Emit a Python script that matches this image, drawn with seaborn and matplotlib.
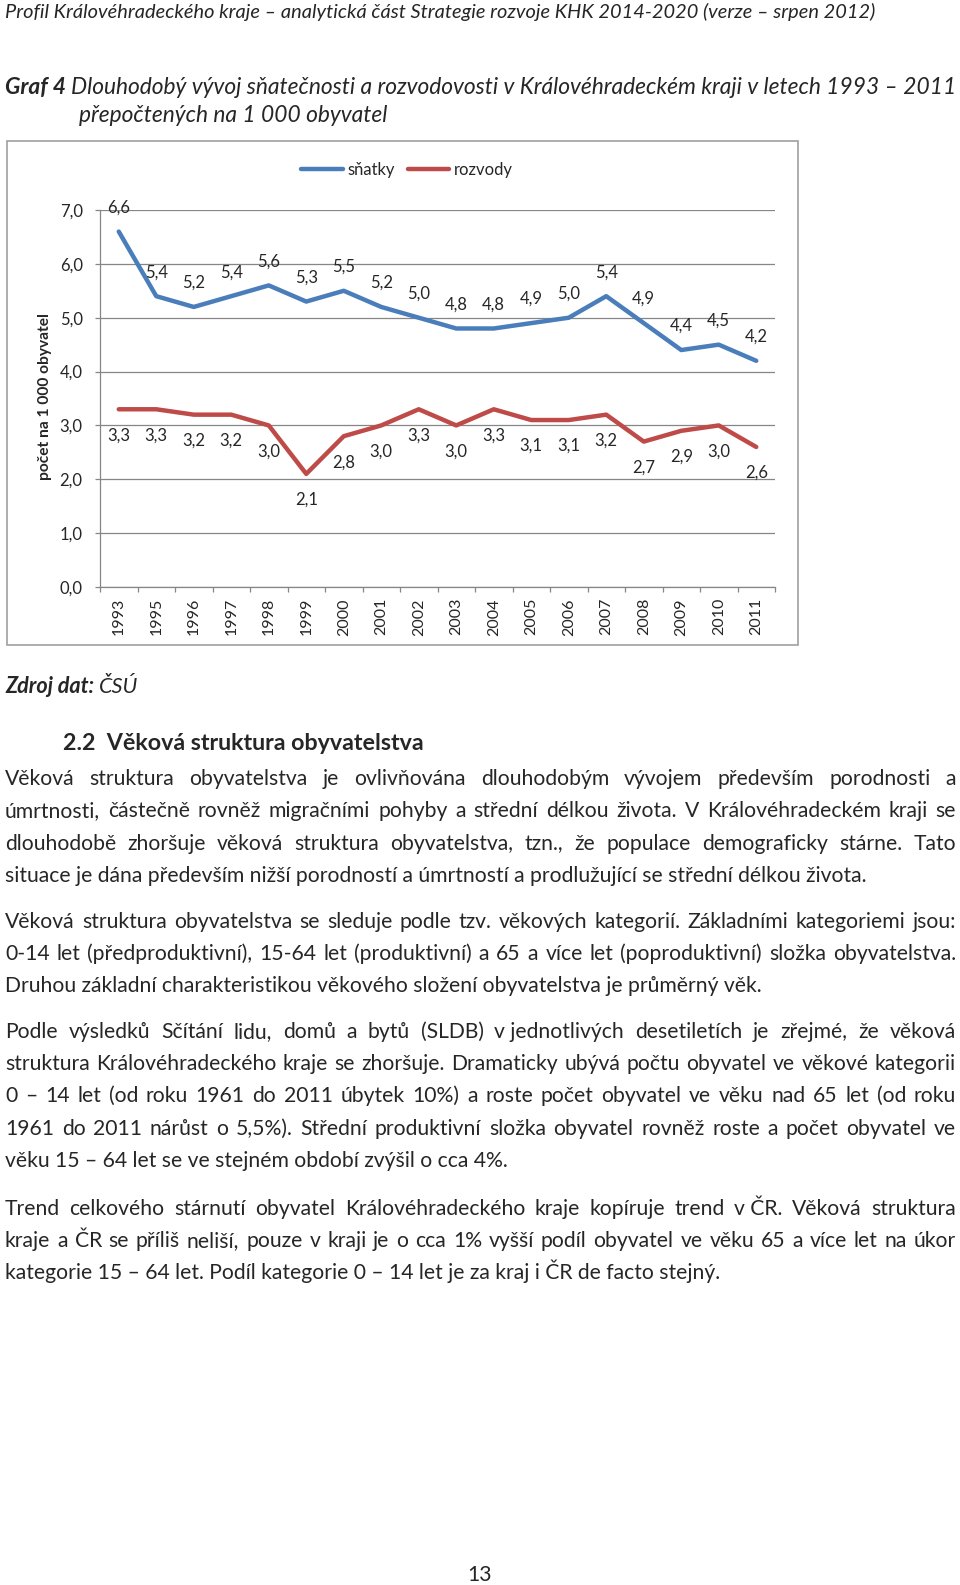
import matplotlib
matplotlib.use('Agg')
import matplotlib.pyplot as plt
import seaborn as sns
import pandas as pd
from matplotlib.lines import Line2D
from matplotlib.patches import Rectangle

# ---------------- data ----------------
roky = ['1993', '1995', '1996', '1997', '1998', '1999', '2000', '2001', '2002',
        '2003', '2004', '2005', '2006', '2007', '2008', '2009', '2010', '2011']
snatky = [6.6, 5.4, 5.2, 5.4, 5.6, 5.3, 5.5, 5.2, 5.0, 4.8, 4.8, 4.9, 5.0, 5.4, 4.9, 4.4, 4.5, 4.2]
rozvody = [3.3, 3.3, 3.2, 3.2, 3.0, 2.1, 2.8, 3.0, 3.3, 3.0, 3.3, 3.1, 3.1, 3.2, 2.7, 2.9, 3.0, 2.6]
serie = ['sňatky', 'rozvody']
barvy = ['#4A7EBB', '#BE4B48']
y_ticks = [0, 1, 2, 3, 4, 5, 6, 7]

hlavicka = 'Profil Královéhradeckého kraje – analytická část Strategie rozvoje KHK 2014-2020 (verze – srpen 2012)'
graf_cislo = 'Graf 4'
graf_nazev1 = 'Dlouhodobý vývoj sňatečnosti a rozvodovosti v Královéhradeckém kraji v letech 1993 – 2011'
graf_nazev2 = 'přepočtených na 1 000 obyvatel'
osa_y = 'počet na 1 000 obyvatel'
zdroj_b = 'Zdroj dat:'
zdroj_i = 'ČSÚ'
nadpis = '2.2  Věková struktura obyvatelstva'
NB = '\u00a0'
odstavce = [
    ['Věková struktura obyvatelstva je ovlivňována dlouhodobým vývojem především porodnosti a',
     'úmrtnosti, částečně rovněž migračními pohyby a střední délkou života. V Královéhradeckém kraji se',
     'dlouhodobě zhoršuje věková struktura obyvatelstva, tzn., že populace demograficky stárne. Tato',
     'situace je dána především nižší porodností a úmrtností a prodlužující se střední délkou života.'],
    ['Věková struktura obyvatelstva se sleduje podle tzv. věkových kategorií. Základními kategoriemi jsou:',
     '0-14 let (předproduktivní), 15-64 let (produktivní) a 65 a více let (poproduktivní) složka obyvatelstva.',
     'Druhou základní charakteristikou věkového složení obyvatelstva je průměrný věk.'],
    ['Podle výsledků Sčítání lidu, domů a bytů (SLDB) v' + NB + 'jednotlivých desetiletích je zřejmé, že věková',
     'struktura Královéhradeckého kraje se zhoršuje. Dramaticky ubývá počtu obyvatel ve věkové kategorii',
     '0 – 14 let (od roku 1961 do 2011 úbytek 10%) a roste počet obyvatel ve věku nad 65 let (od roku',
     '1961 do 2011 nárůst o 5,5%). Střední produktivní složka obyvatel rovněž roste a počet obyvatel ve',
     'věku 15 – 64 let se ve stejném období zvýšil o cca 4%.'],
    ['Trend celkového stárnutí obyvatel Královéhradeckého kraje kopíruje trend v' + NB + 'ČR. Věková struktura',
     'kraje a ČR se příliš neliší, pouze v kraji je o cca 1% vyšší podíl obyvatel ve věku 65 a více let na úkor',
     'kategorie 15 – 64 let. Podíl kategorie 0 – 14 let je za kraj i ČR de facto stejný.'],
]
radky_y = [[779, 811, 844, 876], [922, 954, 986], [1032, 1064, 1096, 1129, 1161], [1207, 1239, 1271]]
strana = '13'

# ---------------- setup ----------------
sns.set_style('white')
plt.rcParams['font.family'] = ['Lato', 'DejaVu Sans']
W, H = 960, 1585
fig = plt.figure(figsize=(W / 100, H / 100), dpi=100)
fig.patch.set_facecolor('white')
r = fig.canvas.get_renderer()


def fx(x):
    return x / W


def fy(y):
    return 1 - y / H


def tw(s, **kw):
    t = fig.text(0, 0, s, **kw)
    w = t.get_window_extent(r).width
    t.remove()
    return w


def base_off(s, **kw):
    """pixels from bbox centre to baseline (negative => baseline below centre)"""
    t = fig.text(0, 0.5, s, va='baseline', **kw)
    bb = t.get_window_extent(r)
    t.remove()
    return 0.5 * H - (bb.y0 + bb.y1) / 2


def fit(s, target, **kw):
    return 20 * target / tw(s, fontsize=20, **kw)


# ---------------- chart ----------------
GRID = '#868686'
FS = 12
ax = fig.add_axes([fx(100), fy(587), 675 / W, 377 / H])
df = pd.DataFrame({'rok': roky * 2,
                   'hodnota': snatky + rozvody,
                   'řada': [serie[0]] * len(roky) + [serie[1]] * len(roky)})
sns.lineplot(data=df, x='rok', y='hodnota', hue='řada', hue_order=serie,
             palette=dict(zip(serie, barvy)), linewidth=3.2, ax=ax, legend=False,
             sort=False, estimator=None)
for ln in ax.lines:
    ln.set_solid_joinstyle('round')
    ln.set_solid_capstyle('round')

ax.set_ylim(0, 7)
ax.set_xlim(-0.5, len(roky) - 0.5)
ax.set_yticks(y_ticks)
ax.set_yticklabels([f'{v:.1f}'.replace('.', ',') for v in y_ticks])
ax.set_xticks(range(len(roky)))
ax.set_xticklabels(roky, rotation=90)
ax.set_xticks([i - 0.5 for i in range(len(roky) + 1)], minor=True)
ax.yaxis.grid(True, color=GRID, lw=0.9)
ax.xaxis.grid(False)
ax.set_axisbelow(True)
for s in ['top', 'right']:
    ax.spines[s].set_visible(False)
for s in ['left', 'bottom']:
    ax.spines[s].set_color(GRID)
    ax.spines[s].set_linewidth(0.9)
ax.tick_params(axis='y', length=3.5, width=0.9, color=GRID, pad=9, labelsize=FS, left=True)
ax.tick_params(axis='x', which='major', length=0, pad=8, labelsize=11.5, bottom=True)
ax.tick_params(axis='x', which='minor', length=3.6, width=0.9, color=GRID, direction='out', bottom=True)
ax.set_xlabel('')
ax.set_ylabel('')

for i, v in enumerate(snatky):
    ax.annotate(f'{v:.1f}'.replace('.', ','), (i, v), xytext=(0, 17.3), textcoords='offset points',
                ha='center', va='center', fontsize=FS)
for i, v in enumerate(rozvody):
    ax.annotate(f'{v:.1f}'.replace('.', ','), (i, v), xytext=(0, -18.7), textcoords='offset points',
                ha='center', va='center', fontsize=FS)

ys = fit(osa_y, 167, fontweight='bold')
fig.text(fx(45), fy(397), osa_y, rotation=90, ha='center', va='center', fontsize=ys, fontweight='bold')

handles = [Line2D([], [], color=c, lw=3.2) for c in barvy]
fig.legend(handles, serie, loc='center', bbox_to_anchor=(fx(407), fy(170)), ncol=2, frameon=False,
           fontsize=FS, handlelength=2.5, handletextpad=0.3, columnspacing=0.75)

fig.patches.append(Rectangle((fx(7), fy(645)), (798 - 7) / W, (645 - 141) / H,
                             transform=fig.transFigure, fill=False, ec='#A0A0A0', lw=1.2))

# ---------------- page text ----------------
def space_w(**kw):
    return tw('a a', **kw) - tw('aa', **kw)


# header
hs = fit(hlavicka, 867, style='italic')
fig.text(fx(5), fy(12), hlavicka, fontsize=hs, style='italic', ha='left', va='center')

# graph title (two runs)
ts = 20 * 951 / (tw(graf_cislo, fontsize=20, style='italic', fontweight='bold')
                 + space_w(fontsize=20, style='italic')
                 + tw(graf_nazev1, fontsize=20, style='italic'))
off = base_off(graf_cislo + ' ' + graf_nazev1, fontsize=ts, style='italic')
yb = round(87 - off)
fig.text(fx(5), fy(yb), graf_cislo, fontsize=ts, style='italic', fontweight='bold', ha='left', va='baseline')
x2 = 5 + tw(graf_cislo, fontsize=ts, style='italic', fontweight='bold') + space_w(fontsize=ts, style='italic')
fig.text(fx(x2), fy(yb), graf_nazev1, fontsize=ts, style='italic', ha='left', va='baseline')
fig.text(fx(79), fy(115), graf_nazev2, fontsize=ts, style='italic', ha='left', va='center')

# source
zs = 20 * 134 / (tw(zdroj_b, fontsize=20, style='italic', fontweight='bold')
                 + space_w(fontsize=20, style='italic')
                 + tw(zdroj_i, fontsize=20, style='italic'))
off = base_off(zdroj_b + ' ' + zdroj_i, fontsize=zs, style='italic')
yb = round(685 - off)
fig.text(fx(5), fy(yb), zdroj_b, fontsize=zs, style='italic', fontweight='bold', ha='left', va='baseline')
xz = 5 + tw(zdroj_b, fontsize=zs, style='italic', fontweight='bold') + space_w(fontsize=zs, style='italic')
fig.text(fx(xz), fy(yb), zdroj_i, fontsize=zs, style='italic', ha='left', va='baseline')

# heading
ns = fit(nadpis, 362, fontweight='bold')
fig.text(fx(63), fy(744), nadpis, fontsize=ns, fontweight='bold', ha='left', va='center')

# body font size from the last (left-aligned) lines
targets = [875, 762, 500, 712]
ratios = [fit(p[-1], t) for p, t in zip(odstavce, targets)]
bs = sum(ratios) / len(ratios)
X0, X1 = 5, 956
for par, yl in zip(odstavce, radky_y):
    for k, (line, y) in enumerate(zip(par, yl)):
        off = base_off(line, fontsize=bs)
        yb = round(y - off)
        if k == len(par) - 1:
            fig.text(fx(X0), fy(yb), line, fontsize=bs, ha='left', va='baseline')
            continue
        words = line.split(' ')
        ws = [tw(w, fontsize=bs) for w in words]
        gap = (X1 - X0 - sum(ws)) / (len(words) - 1)
        x = X0
        for w, wd in zip(words, ws):
            fig.text(fx(x), fy(yb), w, fontsize=bs, ha='left', va='baseline')
            x += wd + gap

fig.text(fx(480), fy(1575), strana, fontsize=bs, ha='center', va='center')

fig.savefig('out.png', dpi=100, facecolor='white')
